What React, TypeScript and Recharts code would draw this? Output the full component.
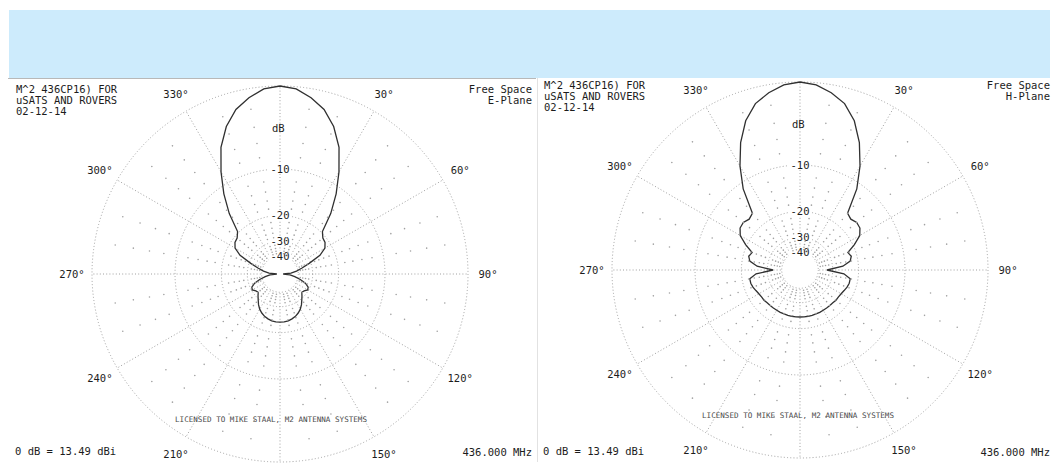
import { RadarChart, Radar, PolarGrid, PolarAngleAxis, PolarRadiusAxis } from "recharts";

// azimuth of every sample, clockwise from the top
const ANGLES = [
  0, 5, 10, 15, 20, 25, 30, 35, 40, 45, 50, 55, 60, 65, 70, 75, 80, 85,
  90, 95, 100, 105, 110, 115, 120, 125, 130, 135, 140, 145, 150, 155, 160, 165, 170, 175,
  180, 185, 190, 195, 200, 205, 210, 215, 220, 225, 230, 235, 240, 245, 250, 255, 260, 265,
  270, 275, 280, 285, 290, 295, 300, 305, 310, 315, 320, 325, 330, 335, 340, 345, 350, 355,
];

// relative gain in dB, one value per azimuth
const E_PLANE_DB = [
  0, -0.2, -0.85, -1.7, -3.1, -5.1, -8.0, -11.2, -14.9, -19.6, -20.8, -21.1, -22.1, -24.9, -30.9, -36.5, -41.5, -48.7,
  -70, -50.3, -43.4, -37.6, -33.3, -30.9, -30.4, -31.8, -32.4, -30.9, -29.4, -27.7, -26.3, -25.3, -24.5, -24.0, -23.6, -23.4,
  -23.4, -23.4, -23.6, -24.0, -24.5, -25.3, -26.3, -27.7, -29.4, -30.9, -32.4, -31.8, -30.4, -30.9, -33.3, -37.6, -43.4, -50.3,
  -70, -48.7, -41.5, -36.5, -30.9, -24.9, -22.1, -21.1, -20.8, -19.6, -14.9, -11.2, -8.0, -5.1, -3.1, -1.7, -0.85, -0.2,
];

const H_PLANE_DB = [
  0, -0.2, -0.75, -1.5, -2.9, -5.0, -7.7, -11.0, -16.0, -16.5, -16.0, -16.2, -17.2, -19.6, -22.4, -21.7, -22.4, -25.3,
  -33.3, -24.9, -22.4, -22.4, -22.7, -23.2, -23.6, -23.8, -23.8, -24.0, -24.0, -24.0, -24.0, -23.9, -23.9, -23.8, -23.8, -23.8,
  -23.8, -23.8, -23.8, -23.8, -23.9, -23.9, -24.0, -24.0, -24.0, -24.0, -23.8, -23.8, -23.6, -23.2, -22.7, -22.4, -22.4, -24.9,
  -33.3, -25.3, -22.4, -21.7, -22.4, -19.6, -17.2, -16.2, -16.0, -16.5, -16.0, -11.0, -7.7, -5.0, -2.9, -1.5, -0.75, -0.2,
];

const RING_DB = [-40, -30, -20, -10, 0];
const DOT_DB = [-2, -4, -6, -8, -12, -14, -16, -18, -22, -24, -26, -28, -32, -34, -36, -38];
const ANGLE_LABELS = [30, 60, 90, 120, 150, 210, 240, 270, 300, 330];
const SPOKES = [0, 30, 60, 90, 120, 150, 180, 210, 240, 270, 300, 330];

const TITLE_LINES = ["M^2 436CP16) FOR", "uSATS AND ROVERS", "02-12-14"];
const GAIN_NOTE = "0 dB = 13.49 dBi";
const FREQ_NOTE = "436.000 MHz";
const LICENSE_NOTE = "LICENSED TO MIKE STAAL, M2 ANTENNA SYSTEMS";

const MONO = "'DejaVu Sans Mono', 'Liberation Mono', monospace";
const INK = "#1c1c1c";
const GRID = "#a0a0a0";
const OUTER = 188;

// ARRL log scale: radius fraction for a dB value
const arrl = (db: number) => Math.pow(0.89, -db / 2);
const arrlToDb = (v: number) => Math.round((-2 * Math.log(v)) / Math.log(0.89));

const AngleTick = (props: any) => {
  const { x, y, payload } = props;
  const v = Number(payload?.value);
  if (!ANGLE_LABELS.includes(v)) return <g />;
  return (
    <text x={x} y={y} textAnchor="middle" dominantBaseline="central" fontFamily={MONO} fontSize={10.5} fill={INK}>
      {`${v}°`}
    </text>
  );
};

const RadiusTick = (props: any) => {
  const { x, y, payload } = props;
  const db = arrlToDb(Number(payload?.value));
  if (!(db < 0)) return <g />;
  return (
    <g>
      <rect x={x - 11} y={y - 5} width={22} height={10} fill="#fff" />
      <text x={x} y={y} textAnchor="middle" dominantBaseline="central" fontFamily={MONO} fontSize={10.5} fill={INK}>
        {`${db}`}
      </text>
    </g>
  );
};

const GridDot = (props: any) => {
  const { cx, cy, index } = props;
  const a = ANGLES[index];
  if (a % 10 !== 0 || a % 30 === 0) return <g />;
  return <circle cx={cx} cy={cy} r={0.8} fill={GRID} />;
};

interface PatternProps {
  left: number;
  top: number;
  width: number;
  height: number;
  cx: number;
  cy: number;
  values: number[];
  plane: string;
  licenseShift: number;
}

const PatternPlot = ({ left, top, width, height, cx, cy, values, plane, licenseShift }: PatternProps) => {
  const data = ANGLES.map((angle, i) => ({ angle, db: values[i] }));
  const text = { position: "absolute" as const, fontFamily: MONO, fontSize: 10.5, lineHeight: "11px", color: INK, whiteSpace: "pre" as const };

  return (
    <div style={{ position: "absolute", left, top, width, height }}>
      <RadarChart
        width={width}
        height={height}
        data={data}
        cx={cx}
        cy={cy}
        outerRadius={OUTER}
        startAngle={90}
        endAngle={-270}
        margin={{ top: 0, right: 0, bottom: 0, left: 0 }}
      >
        <PolarGrid
          gridType="circle"
          polarAngles={SPOKES.map((a) => 90 - a)}
          stroke={GRID}
          strokeDasharray="1 2.2"
        />
        <PolarAngleAxis dataKey="angle" tick={AngleTick} tickLine={false} axisLine={false} tickSize={20} />
        <PolarRadiusAxis
          type="number"
          domain={[0, 1]}
          ticks={RING_DB.map(arrl) as any}
          angle={90}
          axisLine={false}
          tickLine={false}
          tick={RadiusTick}
        />
        {/* blank core inside the -40 dB ring */}
        <Radar
          dataKey={() => arrl(-41)}
          stroke="none"
          fill="#ffffff"
          fillOpacity={1}
          dot={false}
          isAnimationActive={false}
        />
        {DOT_DB.map((level) => (
          <Radar
            key={level}
            dataKey={() => arrl(level)}
            stroke="none"
            fill="none"
            fillOpacity={0}
            dot={GridDot}
            isAnimationActive={false}
          />
        ))}
        <Radar
          dataKey={(d: any) => arrl(d.db)}
          stroke="#303030"
          strokeWidth={1.3}
          fill="none"
          fillOpacity={0}
          dot={false}
          isAnimationActive={false}
        />
      </RadarChart>

      <div style={{ ...text, left: cx - 8, top: cy - OUTER * arrl(-4.5) - 6 }}>dB</div>
      <div style={{ ...text, left: 6, top: 6 }}>{TITLE_LINES.join("\n")}</div>
      <div style={{ ...text, right: 4, top: 6, textAlign: "right" }}>{`Free Space\n${plane}`}</div>
      <div style={{ ...text, left: 5, top: height - 19 }}>{GAIN_NOTE}</div>
      <div style={{ ...text, right: 4, top: height - 18 }}>{FREQ_NOTE}</div>
      <div
        style={{
          ...text,
          fontSize: 7.6,
          color: "#4a4a4a",
          left: cx - 100 + licenseShift,
          width: 200,
          textAlign: "center",
          top: cy + 140,
        }}
      >
        {LICENSE_NOTE}
      </div>
    </div>
  );
};

export default function App() {
  return (
    <div style={{ position: "absolute", left: 0, top: 0, width: 1058, height: 465, background: "#fff", overflow: "hidden" }}>
      <div style={{ position: "absolute", left: 9, top: 10, width: 1041, height: 68, background: "#cdebfc" }} />
      <div style={{ position: "absolute", left: 8, top: 78, width: 528, height: 1, background: "#b8b8b8" }} />
      <div style={{ position: "absolute", left: 537, top: 78, width: 1, height: 384, background: "#e2e2e2" }} />
      <PatternPlot left={10} top={78} width={526} height={387} cx={270} cy={196} values={E_PLANE_DB} plane="E-Plane" licenseShift={-9} />
      <PatternPlot left={538} top={74} width={516} height={391} cx={262} cy={196} values={H_PLANE_DB} plane="H-Plane" licenseShift={-2} />
    </div>
  );
}
